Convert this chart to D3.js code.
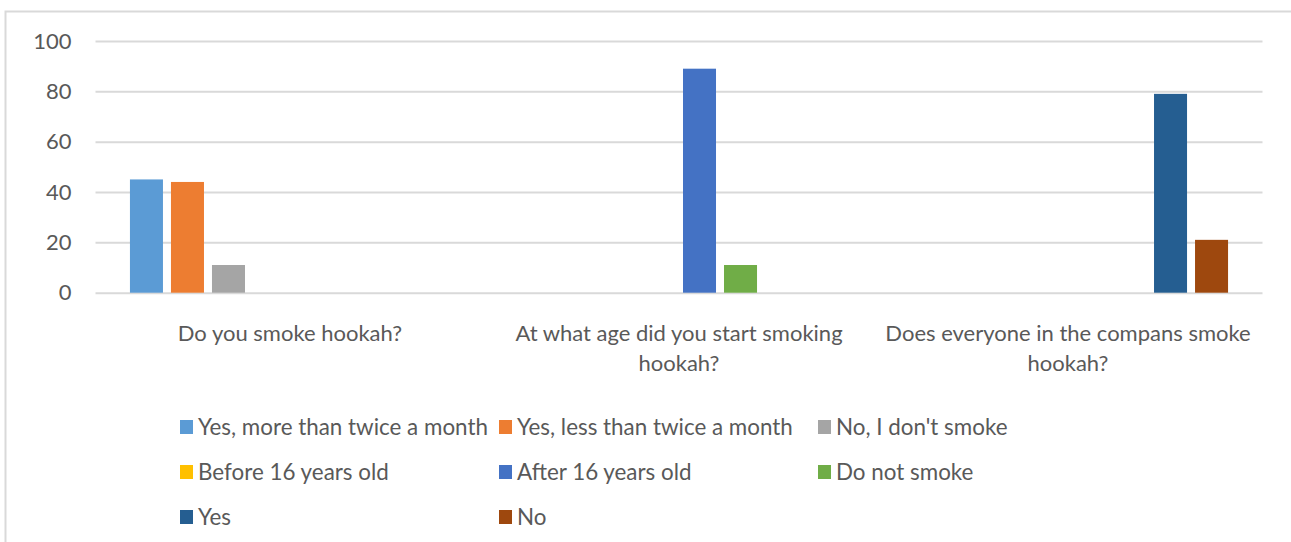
<!DOCTYPE html>
<html>
<head>
<meta charset="utf-8">
<script src="https://cdn.jsdelivr.net/npm/d3@7"></script>
<style>
  html, body { margin: 0; padding: 0; background: #fff; }
  svg { display: block; }
  text { font-family: Lato, "Open Sans", "DejaVu Sans", sans-serif; fill: #595959; }
</style>
</head>
<body>
<svg id="chart" width="1291" height="542"></svg>
<script>
// Survey questions (x categories)
const categories = [
  "Do you smoke hookah?",
  "At what age did you start smoking hookah?",
  "Does everyone in the compans smoke hookah?"
];

// Answer options (one series each), in legend order
const seriesNames = [
  "Yes, more than twice a month",
  "Yes, less than twice a month",
  "No, I don't smoke",
  "Before 16 years old",
  "After 16 years old",
  "Do not smoke",
  "Yes",
  "No"
];

// Percentages per question for each answer (null = not asked for that question)
const yesMoreThanTwice = [45, null, null];
const yesLessThanTwice = [44, null, null];
const noDontSmoke      = [11, null, null];
const before16         = [null, 0, null];
const after16          = [null, 89, null];
const doNotSmoke       = [null, 11, null];
const companyYes       = [null, null, 79];
const companyNo        = [null, null, 21];

const seriesValues = [
  yesMoreThanTwice, yesLessThanTwice, noDontSmoke,
  before16, after16, doNotSmoke,
  companyYes, companyNo
];

const seriesColors = [
  "#5B9BD5", "#ED7D31", "#A5A5A5",
  "#FFC000", "#4472C4", "#70AD47",
  "#255E91", "#9E480E"
];

const yTicks = [0, 20, 40, 60, 80, 100];

const svg = d3.select("#chart");

// Chart area frame (open on the right and bottom edges of the page)
svg.append("path")
  .attr("d", "M5.5,1000 V11.5 H1400")
  .attr("fill", "none")
  .attr("stroke", "#D9D9D9")
  .attr("stroke-width", 2);

const plot = { left: 95.5, right: 1262.5, top: 41, bottom: 292.7 };

const x0 = d3.scaleBand()
  .domain(categories)
  .range([plot.left, plot.right])
  .paddingInner(0)
  .paddingOuter(0);

const x1 = d3.scaleBand()
  .domain(seriesNames)
  .range([0, x0.bandwidth()])
  .paddingInner(0.195)
  .paddingOuter(0.84);

const y = d3.scaleLinear()
  .domain([0, 100])
  .range([plot.bottom, plot.top]);

// Horizontal gridlines + value labels
const yAxis = d3.axisLeft(y)
  .tickValues(yTicks)
  .tickSize(-(plot.right - plot.left))
  .tickPadding(24)
  .tickFormat(d3.format("d"));

const yg = svg.append("g")
  .attr("transform", `translate(${plot.left},0)`)
  .call(yAxis);
yg.select(".domain").remove();
yg.selectAll(".tick line")
  .attr("stroke", "#D9D9D9")
  .attr("stroke-width", 2);
yg.selectAll(".tick text")
  .attr("fill", "#595959")
  .style("font-size", "22px")
  .style("font-family", "Lato, 'Open Sans', sans-serif");

// Bars
const rows = [];
categories.forEach((cat, ci) => {
  seriesNames.forEach((name, si) => {
    const v = seriesValues[si][ci];
    if (v !== null) rows.push({ cat, name, value: v, color: seriesColors[si] });
  });
});

svg.append("g")
  .selectAll("rect")
  .data(rows)
  .join("rect")
  .attr("x", d => x0(d.cat) + x1(d.name))
  .attr("width", x1.bandwidth())
  .attr("y", d => y(d.value))
  .attr("height", d => y(0) - y(d.value))
  .attr("fill", d => d.color);

// Category labels, wrapped to the category width
const catG = svg.append("g");
categories.forEach(cat => {
  const cx = x0(cat) + x0.bandwidth() / 2;
  const t = catG.append("text")
    .attr("x", cx)
    .attr("y", 341)
    .attr("text-anchor", "middle")
    .style("font-size", "22px");
  const words = cat.split(" ");
  let line = [];
  let tspan = t.append("tspan").attr("x", cx).attr("dy", 0);
  words.forEach(w => {
    line.push(w);
    tspan.text(line.join(" "));
    if (tspan.node().getComputedTextLength() > x0.bandwidth() - 20 && line.length > 1) {
      line.pop();
      tspan.text(line.join(" "));
      line = [w];
      tspan = t.append("tspan")
        .attr("x", cx)
        .attr("dy", 30)
        .text(w);
    }
  });
});

// Legend: three columns
const legendCols = [180, 499, 818];
const legendRows = [427, 472, 517];
const lg = svg.append("g");
seriesNames.forEach((name, i) => {
  const cx = legendCols[i % 3];
  const cy = legendRows[Math.floor(i / 3)];
  lg.append("rect")
    .attr("x", cx)
    .attr("y", cy - 7)
    .attr("width", 13)
    .attr("height", 14)
    .attr("fill", seriesColors[i]);
  lg.append("text")
    .attr("x", cx + 18)
    .attr("y", cy + 8)
    .style("font-size", "22.4px")
    .text(name);
});
</script>
</body>
</html>
